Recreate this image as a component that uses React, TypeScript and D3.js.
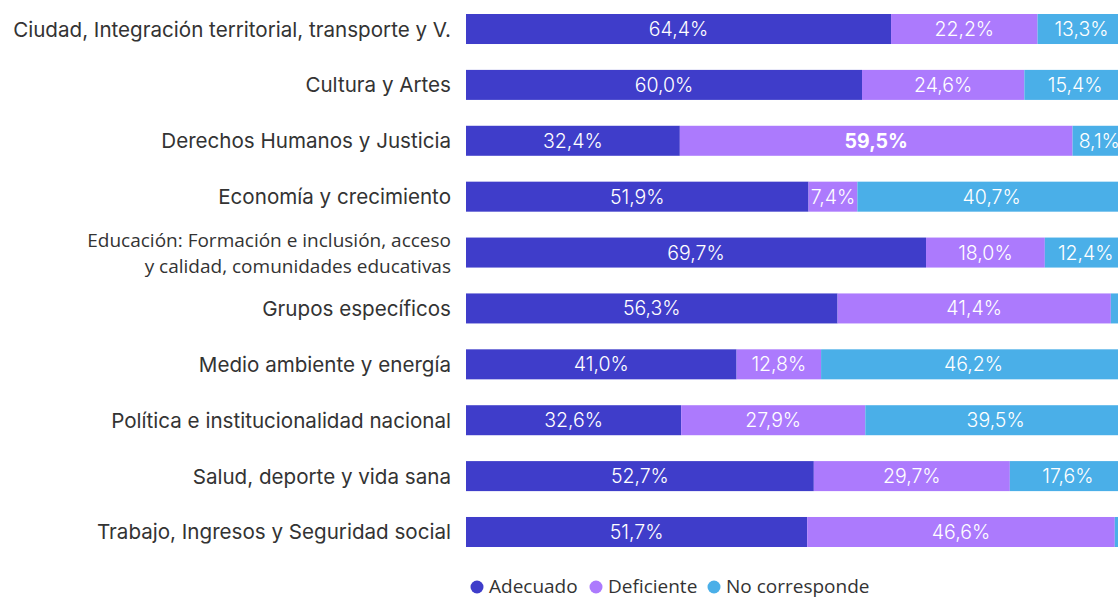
import React from "react";
import * as d3 from "d3";

const categories = [
  "Ciudad, Integración territorial, transporte y V.",
  "Cultura y Artes",
  "Derechos Humanos y Justicia",
  "Economía y crecimiento",
  "Educación: Formación e inclusión, acceso\ny calidad, comunidades educativas",
  "Grupos específicos",
  "Medio ambiente y energía",
  "Política e institucionalidad nacional",
  "Salud, deporte y vida sana",
  "Trabajo, Ingresos y Seguridad social",
];
const adecuado = [64.4, 60.0, 32.4, 51.9, 69.7, 56.3, 41.0, 32.6, 52.7, 51.7];
const deficiente = [22.2, 24.6, 59.5, 7.4, 18.0, 41.4, 12.8, 27.9, 29.7, 46.6];
const noCorresponde = [13.3, 15.4, 8.1, 40.7, 12.4, 2.3, 46.2, 39.5, 17.6, 1.7];
const seriesNames = ["Adecuado", "Deficiente", "No corresponde"];
const seriesColors = ["#3F3DCA", "#AC7AFD", "#4AAFE8"];
const boldLabels = ["2-1"];

const W = 1118;
const H = 597;

export default function App() {
  const rows = categories.map((c, i) => ({
    cat: c,
    Adecuado: adecuado[i],
    Deficiente: deficiente[i],
    "No corresponde": noCorresponde[i],
  }));
  const stack = d3.stack<any>().keys(seriesNames)(rows);
  const x = d3.scaleLinear().domain([0, 100]).range([466, 1126]);
  const y = d3
    .scaleBand<string>()
    .domain(categories)
    .range([14, 547])
    .paddingInner(0.463)
    .paddingOuter(0);
  const fmt = (v: number) => d3.format(".1f")(v).replace(".", ",") + "%";
  const labelFont = "'Inter', 'DejaVu Sans', sans-serif";
  const legendItems = [{ x: 477 }, { x: 596 }, { x: 714 }];

  return (
    <div style={{ position: "absolute", left: 0, top: 0 }}>
      <svg width={W} height={H} style={{ display: "block", background: "#fff" }}>
        {categories.map((c) => {
          const cy = (y(c) as number) + y.bandwidth() / 2;
          const lines = c.split("\n");
          const isMulti = lines.length > 1;
          return (
            <text
              key={c}
              x={451}
              y={cy}
              textAnchor="end"
              fill="#333"
              fontFamily={isMulti ? "'Open Sans', sans-serif" : labelFont}
              fontSize={isMulti ? 19 : 20.6}
            >
              {lines.map((l, k) => (
                <tspan key={k} x={451} dy={k === 0 ? (isMulti ? -5.5 : 7.5) : 26}>
                  {l}
                </tspan>
              ))}
            </text>
          );
        })}
        {stack.map((s, si) => (
          <g key={s.key} fill={seriesColors[si]}>
            {s.map((d, i) => (
              <rect
                key={i}
                x={x(d[0])}
                y={y(categories[i])}
                width={x(d[1]) - x(d[0])}
                height={y.bandwidth()}
              />
            ))}
          </g>
        ))}
        {stack.map((s, si) => (
          <g key={"l" + s.key}>
            {s.map((d, i) => {
              const v = d[1] - d[0];
              if (v < 5) return null;
              const bold = boldLabels.includes(`${i}-${si}`);
              return (
                <text
                  key={i}
                  x={(x(d[0]) + x(d[1])) / 2}
                  y={(y(categories[i]) as number) + y.bandwidth() / 2 + 7}
                  textAnchor="middle"
                  fill="#fff"
                  fontFamily="'Inter', sans-serif"
                  fontWeight={bold ? 700 : 300}
                  fontSize={19.5}
                >
                  {fmt(v)}
                </text>
              );
            })}
          </g>
        ))}
        {seriesNames.map((n, i) => (
          <g key={n}>
            <circle cx={legendItems[i].x} cy={587} r={6.5} fill={seriesColors[i]} />
            <text
              x={legendItems[i].x + 12}
              y={593}
              fill="#333"
              fontFamily="'Open Sans', sans-serif"
              fontSize={19}
            >
              {n}
            </text>
          </g>
        ))}
      </svg>
    </div>
  );
}
